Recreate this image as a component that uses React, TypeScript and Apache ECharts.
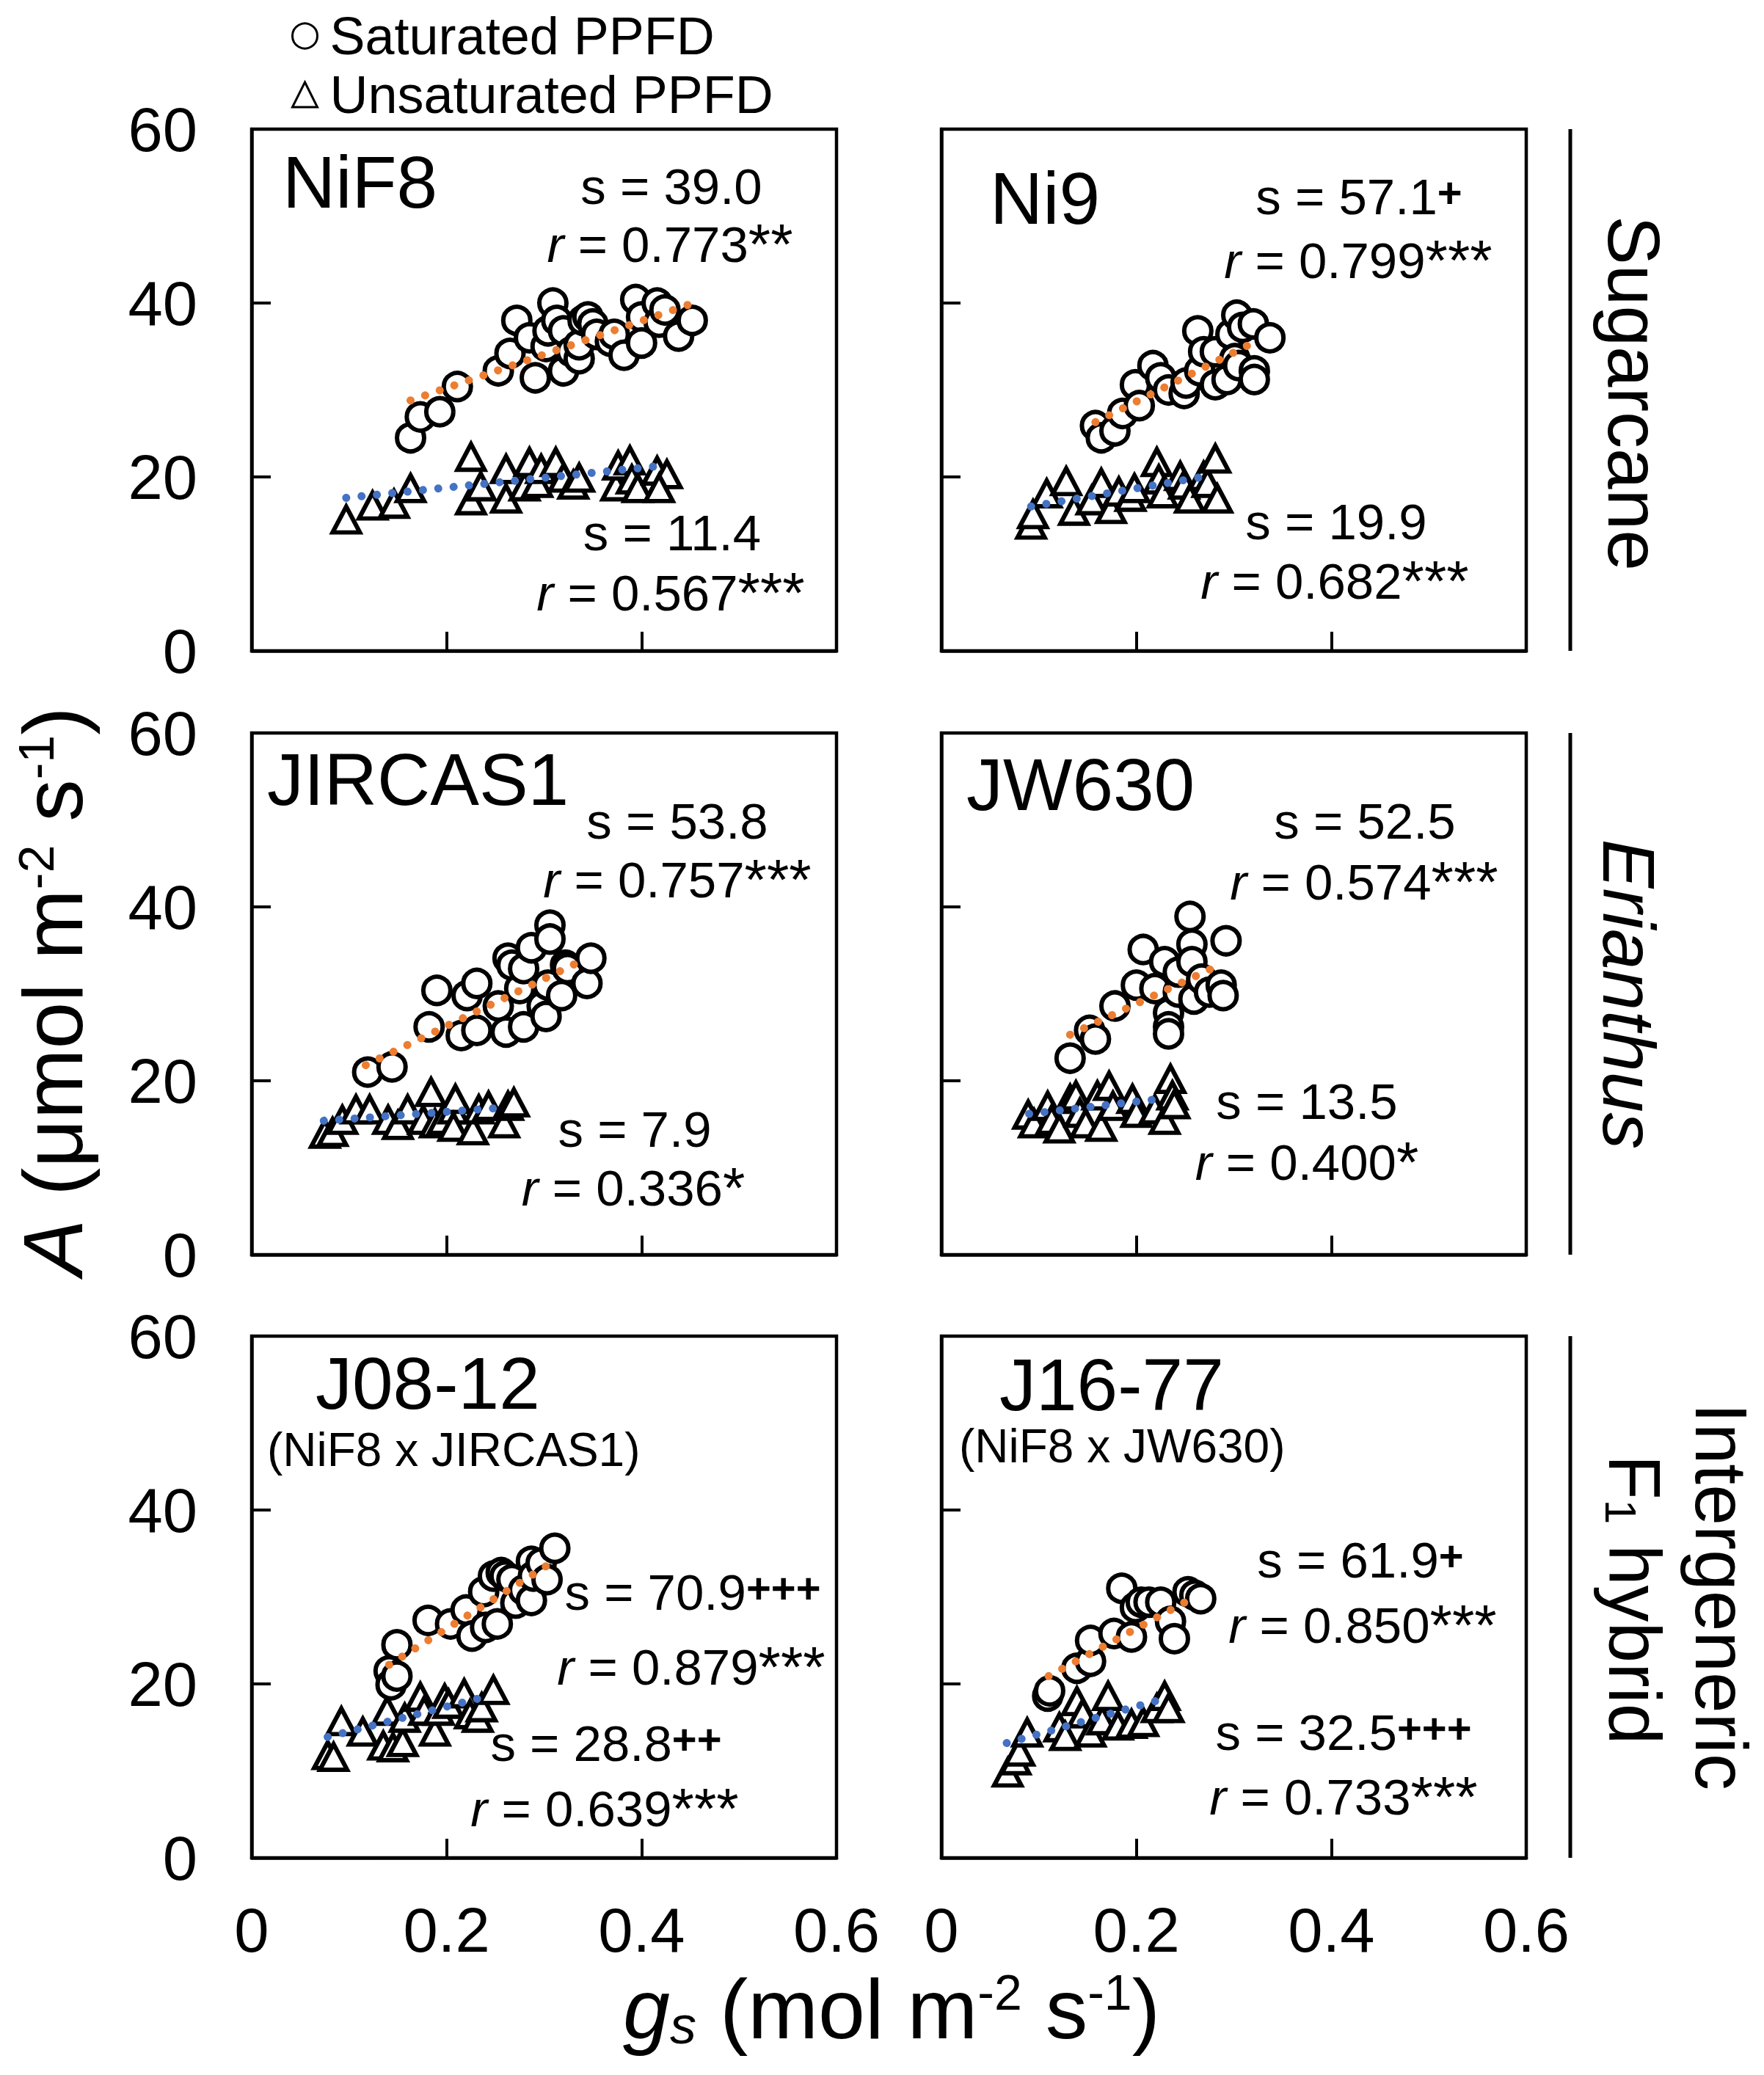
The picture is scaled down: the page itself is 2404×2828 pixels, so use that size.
import React, { useEffect, useRef } from 'react';
import * as echarts from 'echarts';

const FONT = '"Liberation Sans", Arial, Helvetica, sans-serif';

// ---------- data ----------
const xTickLabels = ['0', '0.2', '0.4', '0.6'];
const yTickLabels = ['0', '20', '40', '60'];
const legendNames = ['Saturated PPFD', 'Unsaturated PPFD'];
const panelNames = ['NiF8', 'Ni9', 'JIRCAS1', 'JW630', 'J08-12', 'J16-77'];
const panelCrosses = ['', '', '', '', '(NiF8 x JIRCAS1)', '(NiF8 x JW630)'];
const groupNames = ['Sugarcane', 'Erianthus', 'Intergeneric', 'F1 hybrid'];

const satSlopes = ['39.0', '57.1', '53.8', '52.5', '70.9', '61.9'];
const satSlopeMarks = ['', '+', '', '', '+++', '+'];
const satR = ['0.773', '0.799', '0.757', '0.574', '0.879', '0.850'];
const satRMarks = ['**', '***', '***', '***', '***', '***'];
const unsatSlopes = ['11.4', '19.9', '7.9', '13.5', '28.8', '32.5'];
const unsatSlopeMarks = ['', '', '', '', '++', '+++'];
const unsatR = ['0.567', '0.682', '0.336', '0.400', '0.639', '0.733'];
const unsatRMarks = ['***', '***', '*', '*', '***', '***'];

const satNiF8 = [[0.163,24.5],[0.173,26.9],[0.193,27.5],[0.211,30.4],[0.253,32.2],[0.265,34.2],[0.272,38.0],[0.285,36.0],[0.291,31.4],[0.302,35.0],[0.304,36.8],[0.309,40.0],[0.313,38.0],[0.320,36.8],[0.320,32.2],[0.328,34.4],[0.336,33.6],[0.336,35.2],[0.340,38.0],[0.345,38.4],[0.350,37.6],[0.354,36.4],[0.368,35.6],[0.372,36.4],[0.382,34.0],[0.394,40.4],[0.400,38.4],[0.400,35.4],[0.416,40.0],[0.418,37.8],[0.424,39.2],[0.438,36.2],[0.452,38.0]];
const unsatNiF8 = [[0.097,15.1],[0.124,16.7],[0.146,16.9],[0.163,18.7],[0.225,22.3],[0.225,17.3],[0.235,18.9],[0.261,20.9],[0.261,17.5],[0.280,18.9],[0.285,21.7],[0.293,19.3],[0.297,20.9],[0.312,21.7],[0.320,19.9],[0.330,19.1],[0.336,19.9],[0.374,18.9],[0.376,21.3],[0.388,21.9],[0.390,19.7],[0.396,18.7],[0.416,20.7],[0.426,20.3],[0.418,18.7]];
const satNi9 = [[0.158,25.9],[0.164,24.5],[0.178,25.3],[0.186,27.3],[0.199,30.6],[0.203,28.2],[0.217,32.8],[0.225,31.4],[0.233,30.0],[0.249,29.6],[0.251,30.8],[0.263,36.8],[0.265,32.2],[0.269,34.4],[0.281,34.4],[0.281,30.6],[0.293,31.2],[0.297,36.4],[0.301,33.6],[0.303,38.6],[0.305,32.8],[0.309,37.2],[0.320,37.6],[0.321,32.2],[0.321,31.2],[0.337,36.0]];
const unsatNi9 = [[0.092,14.5],[0.094,15.7],[0.108,18.1],[0.128,19.5],[0.136,16.1],[0.154,17.3],[0.164,19.3],[0.174,16.3],[0.182,18.3],[0.194,17.7],[0.198,18.7],[0.221,21.7],[0.223,19.7],[0.227,18.1],[0.245,20.1],[0.249,19.1],[0.255,17.5],[0.269,20.1],[0.273,19.3],[0.281,22.1],[0.283,17.5]];
const satJIRCAS1 = [[0.119,21.0],[0.144,21.6],[0.182,26.2],[0.190,30.4],[0.215,25.2],[0.221,29.8],[0.231,31.2],[0.231,25.8],[0.253,28.6],[0.261,25.6],[0.263,34.1],[0.267,33.3],[0.275,30.6],[0.279,32.9],[0.279,26.2],[0.287,35.3],[0.298,28.6],[0.302,27.4],[0.304,31.0],[0.306,37.9],[0.306,36.3],[0.318,29.8],[0.322,33.3],[0.324,32.9],[0.344,31.2],[0.348,34.1]];
const unsatJIRCAS1 = [[0.075,13.9],[0.083,14.1],[0.093,15.5],[0.107,16.7],[0.121,16.7],[0.140,15.5],[0.150,14.9],[0.160,16.7],[0.176,15.5],[0.184,18.7],[0.188,15.1],[0.196,15.5],[0.207,16.7],[0.209,17.9],[0.207,14.7],[0.227,14.3],[0.233,16.7],[0.243,17.1],[0.259,15.1],[0.263,17.1],[0.269,17.5]];
const satJW630 = [[0.132,22.6],[0.152,25.8],[0.158,24.8],[0.178,28.6],[0.200,31.0],[0.207,35.1],[0.219,30.6],[0.229,33.7],[0.233,27.8],[0.233,26.2],[0.233,25.4],[0.243,30.2],[0.243,32.5],[0.255,38.9],[0.257,35.7],[0.257,33.7],[0.259,29.4],[0.267,31.7],[0.275,30.2],[0.287,31.0],[0.289,29.8],[0.292,36.1]];
const unsatJW630 = [[0.089,16.1],[0.095,15.1],[0.109,17.1],[0.113,15.5],[0.121,14.5],[0.132,17.9],[0.138,18.3],[0.142,16.3],[0.148,15.1],[0.160,18.3],[0.164,14.7],[0.172,19.4],[0.176,17.1],[0.196,17.9],[0.200,16.3],[0.219,16.7],[0.229,15.5],[0.235,20.2],[0.237,18.3],[0.239,17.3]];
const satJ0812 = [[0.141,21.5],[0.143,19.9],[0.149,20.9],[0.149,24.5],[0.181,27.3],[0.204,26.9],[0.220,28.5],[0.226,25.5],[0.238,30.6],[0.240,26.5],[0.248,32.4],[0.252,26.9],[0.256,32.8],[0.260,32.4],[0.267,32.0],[0.271,29.3],[0.279,30.8],[0.287,34.1],[0.287,29.6],[0.289,32.4],[0.297,33.9],[0.303,32.0],[0.311,35.6]];
const unsatJ0812 = [[0.078,11.8],[0.084,11.6],[0.092,15.7],[0.114,14.5],[0.135,12.9],[0.139,16.9],[0.145,12.7],[0.155,13.3],[0.157,16.1],[0.173,18.5],[0.177,16.9],[0.188,14.5],[0.192,16.9],[0.198,18.3],[0.202,17.7],[0.218,18.9],[0.224,16.5],[0.232,16.1],[0.236,17.3],[0.248,19.3]];
const satJ1677 = [[0.109,18.6],[0.111,19.2],[0.139,21.8],[0.153,22.6],[0.153,25.0],[0.177,25.8],[0.185,31.0],[0.195,25.4],[0.199,28.8],[0.205,29.4],[0.213,29.4],[0.225,29.4],[0.235,27.2],[0.239,25.2],[0.253,30.6],[0.260,30.2],[0.266,29.8]];
const unsatJ1677 = [[0.068,9.8],[0.076,11.2],[0.080,12.2],[0.088,14.4],[0.121,15.0],[0.127,14.0],[0.139,18.0],[0.145,16.6],[0.153,14.4],[0.165,15.8],[0.171,18.6],[0.181,15.2],[0.195,15.4],[0.207,15.6],[0.221,17.2],[0.229,18.6],[0.233,17.2]];

const trendSat = [
  [[0.163, 28.8], [0.448, 39.8]],
  [[0.158, 26.3], [0.321, 35.5]],
  [[0.117, 21.8], [0.342, 34.0]],
  [[0.132, 25.3], [0.283, 33.2]],
  [[0.141, 22.2], [0.310, 34.1]],
  [[0.110, 20.9], [0.258, 29.9]],
];
const trendUnsat = [
  [[0.097, 17.6], [0.414, 21.2]],
  [[0.092, 16.6], [0.273, 20.1]],
  [[0.074, 15.4], [0.257, 16.9]],
  [[0.090, 16.2], [0.223, 17.9]],
  [[0.078, 13.9], [0.239, 18.5]],
  [[0.067, 13.2], [0.228, 18.3]],
];

const satData = [satNiF8, satNi9, satJIRCAS1, satJW630, satJ0812, satJ1677];
const unsatData = [unsatNiF8, unsatNi9, unsatJIRCAS1, unsatJW630, unsatJ0812, unsatJ1677];

// ---------- layout ----------
const colLeft = [343, 1283];
const rowTop = [176, 999, 1821];
const gridW = 797;
const gridH = 711;

const titlePos = [[385, 248], [1349, 270], [364, 1062], [1317, 1069], [430, 1885], [1362, 1887]];
const crossPos = [null, null, null, null, [364, 1976], [1307, 1971]];
const statPos = [
  [[915, 254], [913, 333], [916, 726], [914, 808]],
  [[1852, 268], [1851, 355], [1821, 711], [1819, 792]],
  [[923, 1119], [923, 1199], [865, 1539], [863, 1619]],
  [[1860, 1119], [1859, 1202], [1781, 1501], [1781, 1584]],
  [[944, 2170], [942, 2272], [826, 2376], [824, 2465]],
  [[1854, 2126], [1857, 2215], [1831, 2361], [1831, 2449]],
];

const ORANGE = '#ED7D31';
const BLUE = '#4472C4';
const MARK_STROKE = 6;

function buildOption() {
  const grids: any[] = [];
  const xAxes: any[] = [];
  const yAxes: any[] = [];
  const series: any[] = [];
  const graphics: any[] = [];

  for (let i = 0; i < 6; i++) {
    const col = i % 2;
    const row = Math.floor(i / 2);
    grids.push({
      left: colLeft[col], top: rowTop[row], width: gridW, height: gridH,
      show: true, borderColor: '#000', borderWidth: 4.5, backgroundColor: 'transparent',
    });
    xAxes.push({
      type: 'value', gridIndex: i, min: 0, max: 0.6, interval: 0.2,
      axisLine: { show: true, onZero: false, lineStyle: { color: '#000', width: 4.5 } },
      axisTick: { show: true, inside: true, length: 26, lineStyle: { color: '#000', width: 4 } },
      splitLine: { show: false },
      axisLabel: {
        show: row === 2, margin: 56, color: '#000', fontSize: 85, fontFamily: FONT,
        formatter: (_v: number, idx: number) => xTickLabels[idx],
      },
    });
    yAxes.push({
      type: 'value', gridIndex: i, min: 0, max: 60, interval: 20,
      axisLine: { show: true, onZero: false, lineStyle: { color: '#000', width: 4.5 } },
      axisTick: { show: true, inside: true, length: 26, lineStyle: { color: '#000', width: 4 } },
      splitLine: { show: false },
      axisLabel: {
        show: col === 0, margin: 74, color: '#000', fontSize: 85, fontFamily: FONT,
        formatter: (_v: number, idx: number) => yTickLabels[idx],
      },
    });

    series.push({
      type: 'scatter', name: legendNames[1], xAxisIndex: i, yAxisIndex: i,
      data: unsatData[i], symbol: 'triangle', symbolSize: [37, 35], z: 2,
      itemStyle: { color: '#fff', borderColor: '#000', borderWidth: MARK_STROKE, opacity: 1 },
      emphasis: { disabled: true },
    });
    series.push({
      type: 'scatter', name: legendNames[0], xAxisIndex: i, yAxisIndex: i,
      data: satData[i], symbol: 'circle', symbolSize: 37, z: 3,
      itemStyle: { color: '#fff', borderColor: '#000', borderWidth: MARK_STROKE, opacity: 1 },
      emphasis: { disabled: true },
    });
    series.push({
      type: 'line', xAxisIndex: i, yAxisIndex: i, data: trendSat[i], showSymbol: false, z: 4, silent: true,
      lineStyle: { color: ORANGE, width: 11, type: [0.01, 21], cap: 'round' },
    });
    series.push({
      type: 'line', xAxisIndex: i, yAxisIndex: i, data: trendUnsat[i], showSymbol: false, z: 4, silent: true,
      lineStyle: { color: BLUE, width: 11, type: [0.01, 21], cap: 'round' },
    });

    // panel title
    graphics.push({
      type: 'text', x: titlePos[i][0], y: titlePos[i][1], z: 10,
      style: { text: panelNames[i], fontSize: 100, fontFamily: FONT, fill: '#000', align: 'left', verticalAlign: 'middle' },
    });
    const cp = crossPos[i];
    if (cp) {
      graphics.push({
        type: 'text', x: cp[0], y: cp[1], z: 10,
        style: { text: panelCrosses[i], fontSize: 64, fontFamily: FONT, fill: '#000', align: 'left', verticalAlign: 'middle' },
      });
    }
    const rich = {
      n: { fontSize: 69, fontFamily: FONT, fill: '#000' },
      i: { fontSize: 69, fontFamily: FONT, fill: '#000', fontStyle: 'italic' },
      a: { fontSize: 78, fontFamily: FONT, fill: '#000' },
      p: { fontSize: 58, fontFamily: FONT, fill: '#000', fontWeight: 'bold', verticalAlign: 'top' },
    };
    const lines = [
      '{n|s = ' + satSlopes[i] + '}' + (satSlopeMarks[i] ? '{p|' + satSlopeMarks[i] + '}' : ''),
      '{i|r}{n| = ' + satR[i] + '}{a|' + satRMarks[i] + '}',
      '{n|s = ' + unsatSlopes[i] + '}' + (unsatSlopeMarks[i] ? '{p|' + unsatSlopeMarks[i] + '}' : ''),
      '{i|r}{n| = ' + unsatR[i] + '}{a|' + unsatRMarks[i] + '}',
    ];
    for (let k = 0; k < 4; k++) {
      graphics.push({
        type: 'text', x: statPos[i][k][0], y: statPos[i][k][1], z: 10,
        style: { text: lines[k], rich, fontSize: 69, fontFamily: FONT, fill: '#000', align: 'center', verticalAlign: 'middle' },
      });
    }
  }

  // group brackets on the right
  for (let r = 0; r < 3; r++) {
    graphics.push({
      type: 'line', z: 10,
      shape: { x1: 2140, y1: rowTop[r], x2: 2140, y2: rowTop[r] + gridH },
      style: { stroke: '#000', lineWidth: 5 },
    });
  }
  const grpRich = {
    n: { fontSize: 100, fontFamily: FONT, fill: '#000' },
    it: { fontSize: 100, fontFamily: FONT, fill: '#000', fontStyle: 'italic' },
    sub: { fontSize: 60, fontFamily: FONT, fill: '#000', verticalAlign: 'bottom' },
  };
  graphics.push({
    type: 'text', x: 2227, y: 536, rotation: -Math.PI / 2, z: 10,
    style: { text: '{n|' + groupNames[0] + '}', rich: grpRich, align: 'center', verticalAlign: 'middle' },
  });
  graphics.push({
    type: 'text', x: 2220, y: 1355, rotation: -Math.PI / 2, z: 10,
    style: { text: '{it|' + groupNames[1] + '}', rich: grpRich, align: 'center', verticalAlign: 'middle' },
  });
  graphics.push({
    type: 'text', x: 2346, y: 2176, rotation: -Math.PI / 2, z: 10,
    style: { text: '{n|' + groupNames[2] + '}', rich: grpRich, align: 'center', verticalAlign: 'middle' },
  });
  graphics.push({
    type: 'text', x: 2228, y: 2180, rotation: -Math.PI / 2, z: 10,
    style: { text: '{n|F}{sub|1}{n| hybrid}', rich: grpRich, align: 'center', verticalAlign: 'middle' },
  });

  // axis titles
  const axRich = {
    n: { fontSize: 115, fontFamily: FONT, fill: '#000' },
    i: { fontSize: 115, fontFamily: FONT, fill: '#000', fontStyle: 'italic' },
    sup: { fontSize: 68, fontFamily: FONT, fill: '#000', verticalAlign: 'top' },
    sub: { fontSize: 72, fontFamily: FONT, fill: '#000', fontStyle: 'italic', verticalAlign: 'bottom', padding: [18, 0, 0, 0] },
  };
  graphics.push({
    type: 'text', x: 72, y: 1351, rotation: Math.PI / 2, z: 10,
    style: { text: '{i|A}{n| (μmol m}{sup|-2}{n| s}{sup|-1}{n|)}', rich: axRich, align: 'center', verticalAlign: 'middle' },
  });
  graphics.push({
    type: 'text', x: 1215, y: 2738, z: 10,
    style: { text: '{i|g}{sub|s}{n| (mol m}{sup|-2}{n| s}{sup|-1}{n|)}', rich: axRich, align: 'center', verticalAlign: 'middle' },
  });

  return {
    animation: false,
    backgroundColor: '#fff',
    legend: {
      data: legendNames, orient: 'vertical', left: 392, top: 8,
      itemWidth: 34, itemHeight: 34, itemGap: 8, selectedMode: false,
      itemStyle: { color: '#fff', borderColor: '#000', borderWidth: 3 },
      textStyle: { fontSize: 72, fontFamily: FONT, color: '#000', padding: [0, 0, 0, 12] },
    },
    grid: grids,
    xAxis: xAxes,
    yAxis: yAxes,
    series,
    graphic: graphics,
  };
}

export default function App() {
  const ref = useRef<HTMLDivElement>(null);
  useEffect(() => {
    if (!ref.current) return;
    const chart = echarts.init(ref.current, undefined, { renderer: 'svg' });
    chart.setOption(buildOption() as any);
    return () => chart.dispose();
  }, []);
  return (
    <div
      ref={ref}
      style={{ position: 'absolute', left: 0, top: 0, width: 2404, height: 2828, background: '#fff' }}
    />
  );
}
